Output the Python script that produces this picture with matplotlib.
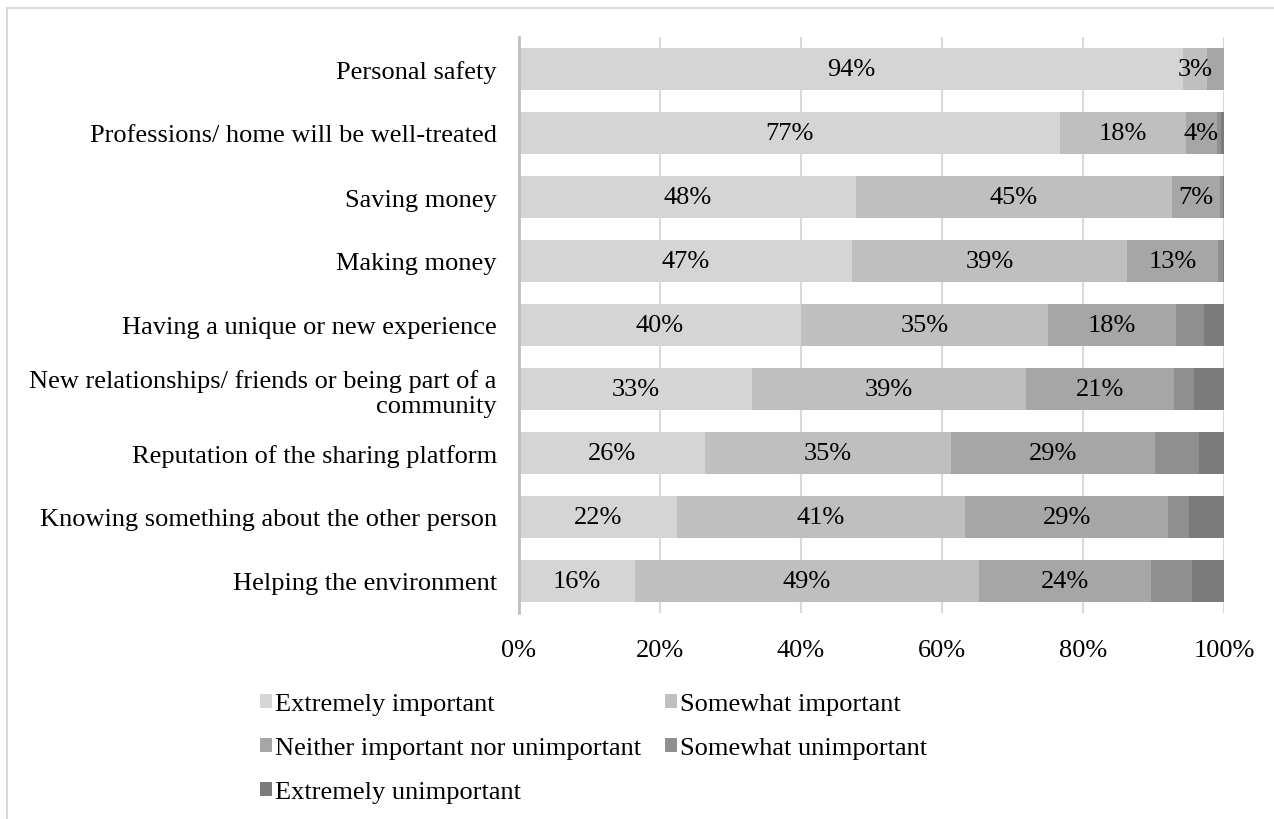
import matplotlib
matplotlib.use("Agg")
import matplotlib.pyplot as plt
from matplotlib.patches import Rectangle
import numpy as np

plt.rcParams['font.family'] = ['Liberation Serif', 'DejaVu Serif']

categories = [
    "Personal safety",
    "Professions/ home will be well-treated",
    "Saving money",
    "Making money",
    "Having a unique or new experience",
    "New relationships/ friends or being part of a\ncommunity",
    "Reputation of the sharing platform",
    "Knowing something about the other person",
    "Helping the environment",
]
series_names = [
    "Extremely important",
    "Somewhat important",
    "Neither important nor unimportant",
    "Somewhat unimportant",
    "Extremely unimportant",
]
extremely_important = [94.2, 76.8, 47.8, 47.3, 40.0, 33.0, 26.4, 22.4, 16.5]
somewhat_important = [3.4, 17.8, 44.8, 38.9, 35.0, 38.9, 34.9, 40.9, 48.7]
neither = [2.4, 4.4, 6.9, 13.0, 18.2, 21.0, 28.9, 28.8, 24.4]
somewhat_unimportant = [0.0, 0.6, 0.3, 0.6, 3.9, 2.8, 6.3, 3.0, 5.9]
extremely_unimportant = [0.0, 0.4, 0.2, 0.2, 2.9, 4.3, 3.5, 4.9, 4.5]
tick_labels = ["0%", "20%", "40%", "60%", "80%", "100%"]

colors = ["#d5d5d5", "#bfbfbf", "#a6a6a6", "#8f8f8f", "#7b7b7b"]
data = np.array([extremely_important, somewhat_important, neither,
                 somewhat_unimportant, extremely_unimportant])
data = data / data.sum(axis=0) * 100

FS = 19
W, H = 1274, 820
fig = plt.figure(figsize=(W / 100, H / 100), dpi=100)
ax = fig.add_axes([519 / W, 1 - 614 / H, (1224 - 519) / W, (614 - 38) / H])

y = np.arange(len(categories))
left = np.zeros(len(categories))
handles = []
for i, (name, vals, col) in enumerate(zip(series_names, data, colors)):
    bars = ax.barh(y, vals, left=left, height=0.67, color=col, label=name,
                   edgecolor="none", zorder=2)
    handles.append(bars)
    if i < 3:
        for yi, (l, v) in enumerate(zip(left, vals)):
            if v >= 2.9:
                ax.text(l + v / 2, yi, f"{v:.0f}%", ha="center", va="center",
                        fontsize=FS, color="black", zorder=3)
    left = left + vals

ax.set_ylim(len(categories) - 0.5, -0.5)
ax.set_xlim(0, 100)
ax.set_yticks(y)
ax.set_yticklabels(categories, fontsize=FS)
ax.set_xticks(np.arange(0, 101, 20))
ax.set_xticklabels(tick_labels, fontsize=FS)
ax.tick_params(axis="both", length=0)
ax.tick_params(axis="y", pad=16)
ax.tick_params(axis="x", pad=19)
ax.xaxis.grid(True, color="#d9d9d9", linewidth=1.5, zorder=0)
ax.set_axisbelow(True)
for side in ["top", "right", "bottom"]:
    ax.spines[side].set_visible(False)
ax.spines["left"].set_color("#bfbfbf")
ax.spines["left"].set_linewidth(2)
ax.spines["left"].set_zorder(4)

order = [0, 2, 4, 1, 3]
fig.legend([handles[k] for k in order], [series_names[k] for k in order],
           ncol=2, loc="upper left", bbox_to_anchor=(260 / W, 1 - 694 / H),
           frameon=False, fontsize=FS, handlelength=0.45, handleheight=0.45,
           handletextpad=0.12, columnspacing=0.9, labelspacing=0.84,
           borderaxespad=0, borderpad=0)

fig.patches.append(Rectangle((7 / W, -0.1), 1.2, 1 - 9 / H + 0.1,
                             transform=fig.transFigure, fill=False,
                             edgecolor="#d9d9d9", linewidth=1.5))

fig.savefig("out.png", dpi=100, facecolor="white")
